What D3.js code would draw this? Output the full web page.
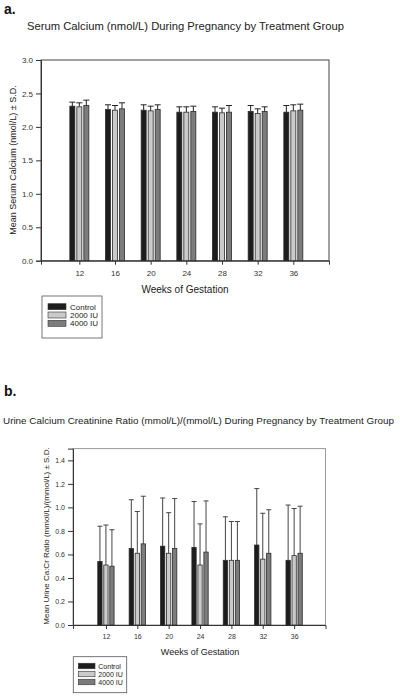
<!DOCTYPE html>
<html><head><meta charset="utf-8">
<script src="https://cdn.jsdelivr.net/npm/d3@7"></script>
<style>body{margin:0;background:#fff}svg{display:block}text{font-family:"Liberation Sans",Arial,sans-serif}</style>
</head><body><svg id="c" width="400" height="698"></svg>
<script>
const weeks = [12, 16, 20, 24, 28, 32, 36];
const groups = ["Control", "2000 IU", "4000 IU"];
const colors = ["#1d1d1d", "#cacaca", "#7c7c7c"];
// Serum calcium means and mean+SD tops
const serumControl = [2.31, 2.26, 2.25, 2.22, 2.22, 2.23, 2.22];
const serum2000 = [2.30, 2.25, 2.24, 2.22, 2.21, 2.20, 2.24];
const serum4000 = [2.32, 2.27, 2.26, 2.23, 2.22, 2.23, 2.25];
const serumControlTop = [2.37, 2.33, 2.33, 2.30, 2.30, 2.32, 2.32];
const serum2000Top = [2.36, 2.32, 2.31, 2.30, 2.28, 2.27, 2.33];
const serum4000Top = [2.40, 2.36, 2.33, 2.31, 2.32, 2.30, 2.34];
const serumTicks = [0, 0.5, 1.0, 1.5, 2.0, 2.5, 3.0];
// Urine Ca:Cr means and mean+SD tops
const urineControl = [0.54, 0.65, 0.67, 0.66, 0.55, 0.68, 0.55];
const urine2000 = [0.51, 0.61, 0.61, 0.51, 0.55, 0.56, 0.59];
const urine4000 = [0.50, 0.69, 0.65, 0.62, 0.55, 0.61, 0.61];
const urineControlTop = [0.84, 1.065, 1.08, 1.05, 0.92, 1.16, 1.02];
const urine2000Top = [0.85, 0.965, 0.955, 0.86, 0.88, 0.95, 0.99];
const urine4000Top = [0.81, 1.095, 1.075, 1.055, 0.88, 0.98, 1.01];
const urineTicks = [0, 0.2, 0.4, 0.6, 0.8, 1.0, 1.2, 1.4];

const svg = d3.select("#c");

function chart(cfg) {
  const g = svg.append("g");
  const x = d3.scaleLinear().domain(cfg.xDomain).range([cfg.left, cfg.right]);
  const y = d3.scaleLinear().domain(cfg.yDomain).range([cfg.bottom, cfg.top]);
  g.append("rect").attr("x", cfg.left).attr("y", cfg.top)
    .attr("width", cfg.right - cfg.left).attr("height", cfg.bottom - cfg.top)
    .attr("fill", "none").attr("stroke", cfg.frame).attr("stroke-width", 1);
  const ya = g.append("g").attr("transform", `translate(${cfg.left},0)`)
    .call(d3.axisLeft(y).tickValues(cfg.yTicks).tickFormat(d3.format(".1f")).tickSize(5).tickPadding(3));
  ya.select(".domain").attr("stroke", "#333");
  ya.selectAll(".tick line").attr("stroke", "#333");
  ya.selectAll("text").attr("font-size", cfg.tickFont).attr("fill", "#333").attr("font-family", "Liberation Sans, Arial, sans-serif");
  const xa = g.append("g").attr("transform", `translate(0,${cfg.bottom})`)
    .call(d3.axisBottom(x).tickValues(weeks).tickSize(4).tickPadding(cfg.xPad));
  xa.select(".domain").attr("stroke", "#333");
  xa.selectAll(".tick line").attr("stroke", "#333");
  xa.selectAll("text").attr("font-size", cfg.tickFont).attr("fill", "#333").attr("font-family", "Liberation Sans, Arial, sans-serif");
  cfg.series.forEach((s, si) => {
    const off = (si - 1) * cfg.step;
    s.means.forEach((m, i) => {
      const cx = x(weeks[i]) + off;
      const top = s.tops[i];
      g.append("line").attr("x1", cx).attr("x2", cx).attr("y1", y(m)).attr("y2", y(top))
        .attr("stroke", cfg.errColor).attr("stroke-width", 1);
      g.append("line").attr("x1", cx - cfg.cap / 2).attr("x2", cx + cfg.cap / 2)
        .attr("y1", y(top)).attr("y2", y(top)).attr("stroke", cfg.errColor).attr("stroke-width", 1);
      g.append("rect").attr("x", cx - cfg.bw / 2).attr("y", y(m))
        .attr("width", cfg.bw).attr("height", y(0) - y(m))
        .attr("fill", colors[si]).attr("stroke", "#2a2a2a").attr("stroke-width", 0.8);
    });
  });
  g.append("text").attr("x", cfg.xLabelX).attr("y", cfg.xLabelY).attr("text-anchor", "middle")
    .attr("font-size", cfg.labelFont).attr("fill", "#222").text("Weeks of Gestation");
  g.append("text").attr("transform", `translate(${cfg.yLabelX},${cfg.yLabelY}) rotate(-90)`)
    .attr("text-anchor", "middle").attr("font-size", cfg.yLabelFont).attr("fill", "#222").text(cfg.yLabel);
  g.append("text").attr("x", cfg.titleX).attr("y", cfg.titleY).attr("text-anchor", "middle")
    .attr("font-size", cfg.titleFont).attr("fill", "#222")
    .attr("textLength", cfg.titleLen).attr("lengthAdjust", "spacingAndGlyphs").text(cfg.title);
  g.append("text").attr("x", cfg.panelX).attr("y", cfg.panelY).attr("font-size", 14)
    .attr("font-weight", "bold").attr("fill", "#111").text(cfg.panel);
  const L = cfg.legend;
  g.append("rect").attr("x", L.x).attr("y", L.y).attr("width", L.w).attr("height", L.h)
    .attr("fill", "#fff").attr("stroke", "#555").attr("stroke-width", 0.8);
  groups.forEach((name, i) => {
    const cy = L.row0 + i * L.dy;
    g.append("rect").attr("x", L.sx).attr("y", cy - L.sh / 2).attr("width", L.sw).attr("height", L.sh)
      .attr("fill", colors[i]).attr("stroke", "#333").attr("stroke-width", 0.6);
    g.append("text").attr("x", L.tx).attr("y", cy + L.font * 0.36).attr("font-size", L.font)
      .attr("fill", "#222").text(name);
  });
}

chart({
  left: 41, right: 329, top: 60, bottom: 260.7, xDomain: [7.7, 40], yDomain: [0, 3],
  yTicks: serumTicks, frame: "#444", tickFont: 8, xPad: 6, step: 7, bw: 5, cap: 6, errColor: "#222",
  series: [{means: serumControl, tops: serumControlTop}, {means: serum2000, tops: serum2000Top}, {means: serum4000, tops: serum4000Top}],
  xLabelX: 185, xLabelY: 293, labelFont: 10,
  yLabelX: 16, yLabelY: 160, yLabelFont: 9, yLabel: "Mean Serum Calcium (nmol/L) ± S.D.",
  titleX: 185.5, titleY: 30, titleFont: 11, titleLen: 317, title: "Serum Calcium (nmol/L) During Pregnancy by Treatment Group",
  panelX: 4, panelY: 14, panel: "a.",
  legend: {x: 42, y: 296, w: 60, h: 42, sx: 48, sw: 18, sh: 6, tx: 70, row0: 306.7, dy: 8.3, font: 8}
});

chart({
  left: 73, right: 325.5, top: 448.6, bottom: 625, xDomain: [7.8, 40], yDomain: [0, 1.5],
  yTicks: urineTicks, frame: "#999", tickFont: 7, xPad: 5, step: 6, bw: 4.3, cap: 5, errColor: "#444",
  series: [{means: urineControl, tops: urineControlTop}, {means: urine2000, tops: urine2000Top}, {means: urine4000, tops: urine4000Top}],
  xLabelX: 200, xLabelY: 654.5, labelFont: 9,
  yLabelX: 49, yLabelY: 536, yLabelFont: 8, yLabel: "Mean Urine Ca:Cr Ratio (mmol/L)/(mmol/L) ± S.D.",
  titleX: 198.5, titleY: 424, titleFont: 9.5, titleLen: 391, title: "Urine Calcium Creatinine Ratio (mmol/L)/(mmol/L) During Pregnancy by Treatment Group",
  panelX: 4, panelY: 396, panel: "b.",
  legend: {x: 73.3, y: 656.7, w: 53.4, h: 36, sx: 78.3, sw: 16.7, sh: 5.5, tx: 98.3, row0: 666, dy: 8, font: 7}
});
</script>
</body></html>
